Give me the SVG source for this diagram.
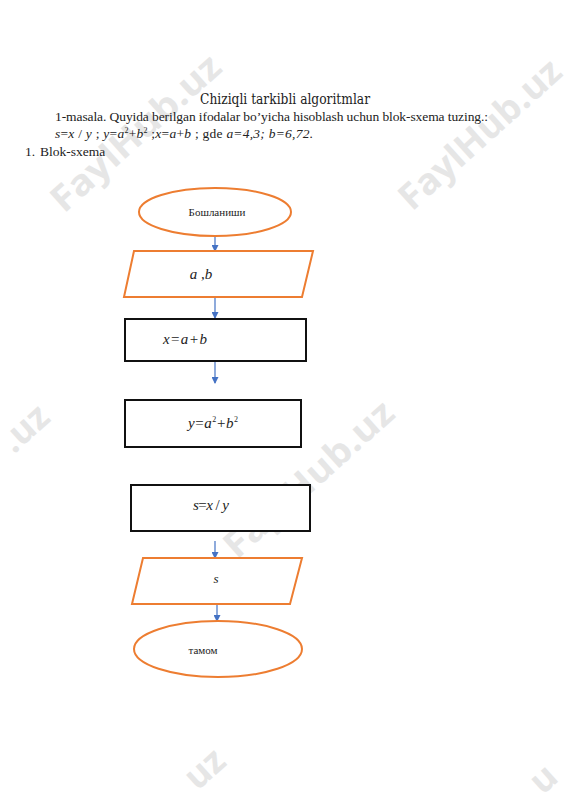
<svg xmlns="http://www.w3.org/2000/svg" width="565" height="800" viewBox="0 0 565 800">
<style>
.wm{font-family:"Open Sans","DejaVu Sans",sans-serif;font-weight:bold;font-size:36px;fill:#e6e6e6}
.tx{font-family:"Liberation Serif","Times New Roman",serif;font-size:13.5px;fill:#222}
.it{font-style:italic}
.term{fill:#fff;stroke:#ED7D31;stroke-width:2}
.io{fill:#fff;stroke:#ED7D31;stroke-width:2}
.proc{fill:#fff;stroke:#111;stroke-width:2}
.lbl{font-family:"Liberation Serif","Times New Roman",serif;fill:#222}
.edge{stroke:#4472C4;stroke-width:1.2;fill:none;marker-end:url(#ah)}
</style>
<defs>
<marker id="ah" markerWidth="7" markerHeight="7" refX="6" refY="3.5" orient="auto" markerUnits="userSpaceOnUse">
<path d="M0,0 L7,3.5 L0,7 z" fill="#4472C4"/>
</marker>
</defs>
<rect width="565" height="800" fill="#fff"/>
<g id="watermarks">
<text class="wm" transform="translate(64,214) rotate(-42)" textLength="215" lengthAdjust="spacingAndGlyphs">FaylHub.uz</text>
<text class="wm" transform="translate(412,212) rotate(-42)" textLength="205" lengthAdjust="spacingAndGlyphs">FaylHub.uz</text>
<text class="wm" transform="translate(52,420) rotate(-42)" text-anchor="end">.uz</text>
<text class="wm" transform="translate(237,560) rotate(-42)" textLength="215" lengthAdjust="spacingAndGlyphs">FaylHub.uz</text>
<text class="wm" transform="translate(228,764) rotate(-42)" text-anchor="end">uz</text>
<text class="wm" transform="translate(560,780) rotate(-42)" text-anchor="end">u</text>
</g>
<g id="header">
<text x="285" y="104" text-anchor="middle" textLength="170" lengthAdjust="spacingAndGlyphs" style="font-family:'DejaVu Serif','Liberation Serif',serif;font-size:14px;fill:#222">Chiziqli tarkibli algoritmlar</text>
<text class="tx" x="55" y="121" textLength="433" lengthAdjust="spacing">1-masala. Quyida berilgan ifodalar bo’yicha hisoblash uchun blok-sxema  tuzing.:</text>
<text class="tx" x="55" y="138" textLength="258" lengthAdjust="spacing"><tspan class="it">s</tspan>=<tspan class="it">x</tspan> / <tspan class="it">y</tspan> ; <tspan class="it">y</tspan>=<tspan class="it">a</tspan><tspan font-size="8" dy="-5">2</tspan><tspan dy="5">+</tspan><tspan class="it">b</tspan><tspan font-size="8" dy="-5">2</tspan><tspan dy="5"> ;</tspan><tspan class="it">x</tspan>=<tspan class="it">a</tspan>+<tspan class="it">b</tspan> ;  gde <tspan class="it">a=4,3; b=6,72.</tspan></text>
<text class="tx" x="25" y="156">1.</text>
<text class="tx" x="40" y="156">Blok-sxema</text>
</g>
<g id="connectors">
<line class="edge" x1="215" y1="236" x2="215" y2="251"/>
<line class="edge" x1="215" y1="297" x2="215" y2="318"/>
<line class="edge" x1="215" y1="361" x2="215" y2="383"/>
<line class="edge" x1="215" y1="541" x2="215" y2="558"/>
<line class="edge" x1="217" y1="604" x2="217" y2="621"/>
</g>
<g id="start">
<ellipse class="term" cx="215" cy="212" rx="76" ry="24"/>
<text class="lbl" x="217" y="216" text-anchor="middle" font-size="11">Бошланиши</text>
</g>
<g id="input">
<polygon class="io" points="134,251 313,251 302,297 124,297"/>
<text class="lbl" x="201" y="279" text-anchor="middle" font-size="15" font-style="italic">a ,b</text>
</g>
<g id="proc-x">
<rect class="proc" x="125" y="319" width="181" height="42"/>
<text class="lbl" x="163" y="344" font-size="15" textLength="44" lengthAdjust="spacing"><tspan font-style="italic">x</tspan>=<tspan font-style="italic">a</tspan>+<tspan font-style="italic">b</tspan></text>
</g>
<g id="proc-y">
<rect class="proc" x="125" y="400" width="176" height="47"/>
<text class="lbl" x="188" y="428" font-size="15" textLength="50" lengthAdjust="spacing"><tspan font-style="italic">y</tspan>=<tspan font-style="italic">a</tspan><tspan font-size="8" dy="-6">2</tspan><tspan dy="6">+</tspan><tspan font-style="italic">b</tspan><tspan font-size="8" dy="-6">2</tspan></text>
</g>
<g id="proc-s">
<rect class="proc" x="131" y="485" width="179" height="46"/>
<text class="lbl" x="193" y="510" font-size="15" textLength="36" lengthAdjust="spacing"><tspan font-style="italic">s</tspan>=<tspan font-style="italic">x</tspan> / <tspan font-style="italic">y</tspan></text>
</g>
<g id="output">
<polygon class="io" points="143,558 302,558 290,604 132,604"/>
<text class="lbl" x="216" y="583" text-anchor="middle" font-size="13" font-style="italic">s</text>
</g>
<g id="end">
<ellipse class="term" cx="218" cy="649" rx="84" ry="28"/>
<text class="lbl" x="203" y="654" text-anchor="middle" font-size="11">тамом</text>
</g>
</svg>
